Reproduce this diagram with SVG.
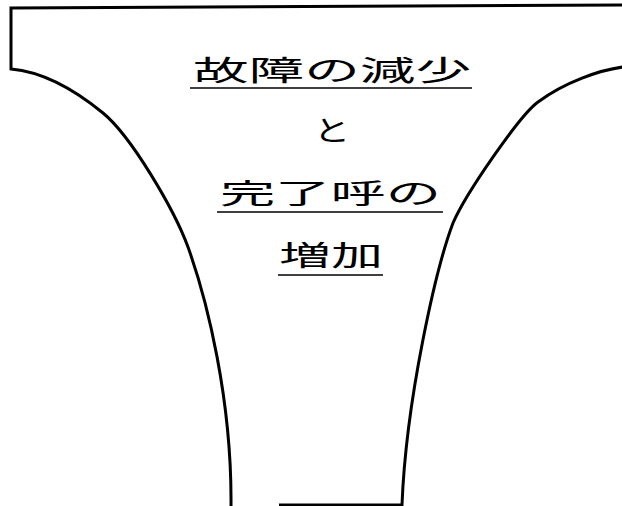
<svg xmlns="http://www.w3.org/2000/svg" width="622" height="506" viewBox="0 0 622 506">
<style>
.ol{fill:none;stroke:#000;stroke-width:3;stroke-linejoin:miter}
.ul{stroke:#000;stroke-width:1.6}
.t{font-family:"Noto Sans CJK JP","Noto Sans CJK SC",sans-serif;font-size:28px;fill:#000}
</style>
<rect width="622" height="506" fill="#fff"/>
<g id="funnel">
<path class="ol" d="M623,5 L11,8 L11,69 C45,72 75,90 103,113 C131,136 174,209 188,247 C207,300 232,400 231,506"/>
<path class="ol" d="M623,67 C600,70 565,82 538,102 C520,115 466,193 453,223 C436,268 406,400 402,505 L279,505"/>
</g>
<g id="label">
<text class="t" x="193" y="81" textLength="278" lengthAdjust="spacingAndGlyphs">故障の減少</text>
<line class="ul" x1="190" y1="88" x2="472" y2="88"/>
<text class="t" x="332" y="141" text-anchor="middle" transform="translate(332,0) scale(1.3,1) translate(-332,0)">と</text>
<text class="t" x="220" y="204" textLength="221" lengthAdjust="spacingAndGlyphs">完了呼の</text>
<line class="ul" x1="217" y1="212" x2="443" y2="212"/>
<text class="t" x="279" y="266" textLength="104" lengthAdjust="spacingAndGlyphs">増加</text>
<line class="ul" x1="278" y1="275" x2="383" y2="275"/>
</g>
</svg>
